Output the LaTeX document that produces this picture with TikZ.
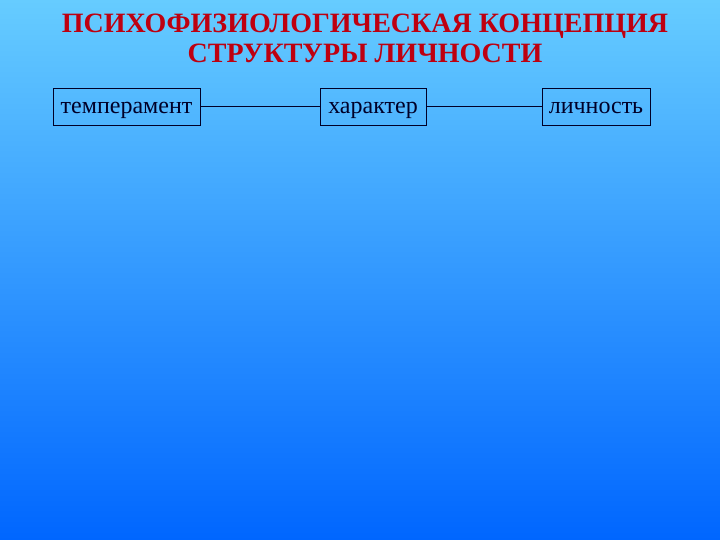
\documentclass[tikz,border=0pt]{standalone}
\usepackage{fontspec}
\setmainfont{Liberation Serif}
\definecolor{bgtop}{RGB}{102,204,255}
\definecolor{bgbot}{RGB}{0,102,255}
\definecolor{titlered}{RGB}{190,0,16}
\definecolor{navy}{RGB}{0,0,40}
\tikzset{
  box/.style={draw=navy, line width=0.9pt, text=navy, font=\fontsize{24}{28}\selectfont, minimum height=37pt, inner sep=0pt, text height=18pt, text depth=3pt},
  link/.style={draw=navy, line width=0.9pt},
  title/.style={text=titlered, font=\fontsize{28}{34}\selectfont\bfseries, anchor=base, inner sep=0pt}
}
\begin{document}
\begin{tikzpicture}[x=1pt,y=-1pt]
\useasboundingbox (0,0) rectangle (720,540);
\shade[top color=bgtop, bottom color=bgbot] (0,0) rectangle (720,540);
\node[title] (t1) at (365,32.5) {ПСИХОФИЗИОЛОГИЧЕСКАЯ КОНЦЕПЦИЯ};
\node[title] (t2) at (365,62.5) {СТРУКТУРЫ ЛИЧНОСТИ};
\node[box, minimum width=147pt] (a) at (126.5,106.5) {темперамент};
\node[box, minimum width=106pt] (b) at (373,106.5) {характер};
\node[box, minimum width=108pt] (c) at (596,106.5) {личность};
\draw[link] (a) -- (b);
\draw[link] (b) -- (c);
\end{tikzpicture}
\end{document}
